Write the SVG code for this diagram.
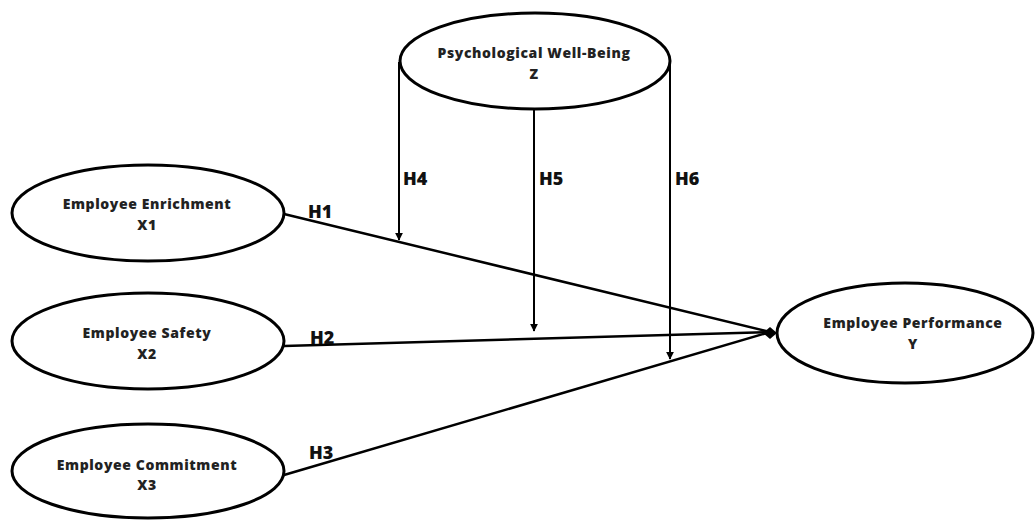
<svg xmlns="http://www.w3.org/2000/svg" width="1035" height="520" viewBox="0 0 1035 520">
<style>
.node ellipse{fill:#fff;stroke:#000;stroke-width:3}
.node text{font-family:"Open Sans","Liberation Sans",sans-serif;font-weight:800;font-size:14px;letter-spacing:0.6px;fill:#222;text-anchor:middle}
.lbl{font-family:"Open Sans","Liberation Sans",sans-serif;font-weight:800;font-size:18px;fill:#111}
.conn line{stroke:#000;stroke-width:2.5;fill:none}
.conn .v{stroke-width:2}
</style>
<defs>
<marker id="tip" viewBox="0 0 10 10" refX="9" refY="5" markerWidth="4" markerHeight="4" orient="auto" markerUnits="strokeWidth">
<path d="M0,0 L10,5 L0,10 z" fill="#000"/>
</marker>
</defs>
<rect width="1035" height="520" fill="#fff"/>
<g id="connectors" class="conn">
<line x1="284" y1="214" x2="770" y2="332"/>
<line x1="284" y1="346" x2="770" y2="332"/>
<line x1="284" y1="475" x2="770" y2="332"/>
<line class="v" x1="399" y1="62" x2="399" y2="240" marker-end="url(#tip)"/>
<line class="v" x1="534" y1="110" x2="534" y2="331" marker-end="url(#tip)"/>
<line class="v" x1="670" y1="62" x2="670" y2="359" marker-end="url(#tip)"/>
<polygon points="763,333 770,327 777,333 770,339" fill="#000"/>
</g>
<text class="lbl" x="308" y="218">H1</text>
<text class="lbl" x="310" y="344">H2</text>
<text class="lbl" x="309" y="459">H3</text>
<text class="lbl" x="403" y="185">H4</text>
<text class="lbl" x="539" y="185">H5</text>
<text class="lbl" x="675" y="185">H6</text>
<g id="node-z" class="node">
<ellipse cx="535" cy="61" rx="135" ry="48"/>
<text x="534" y="58">Psychological Well-Being</text>
<text x="534" y="79">Z</text>
</g>
<g id="node-x1" class="node">
<ellipse cx="148" cy="213" rx="136" ry="48"/>
<text x="147" y="209">Employee Enrichment</text>
<text x="147" y="230">X1</text>
</g>
<g id="node-x2" class="node">
<ellipse cx="148" cy="341" rx="136" ry="48"/>
<text x="147" y="338">Employee Safety</text>
<text x="147" y="359">X2</text>
</g>
<g id="node-x3" class="node">
<ellipse cx="148" cy="471" rx="136" ry="47"/>
<text x="147" y="470">Employee Commitment</text>
<text x="147" y="490">X3</text>
</g>
<g id="node-y" class="node">
<ellipse cx="905" cy="333" rx="128" ry="50"/>
<text x="913" y="328">Employee Performance</text>
<text x="913" y="349">Y</text>
</g>
</svg>
